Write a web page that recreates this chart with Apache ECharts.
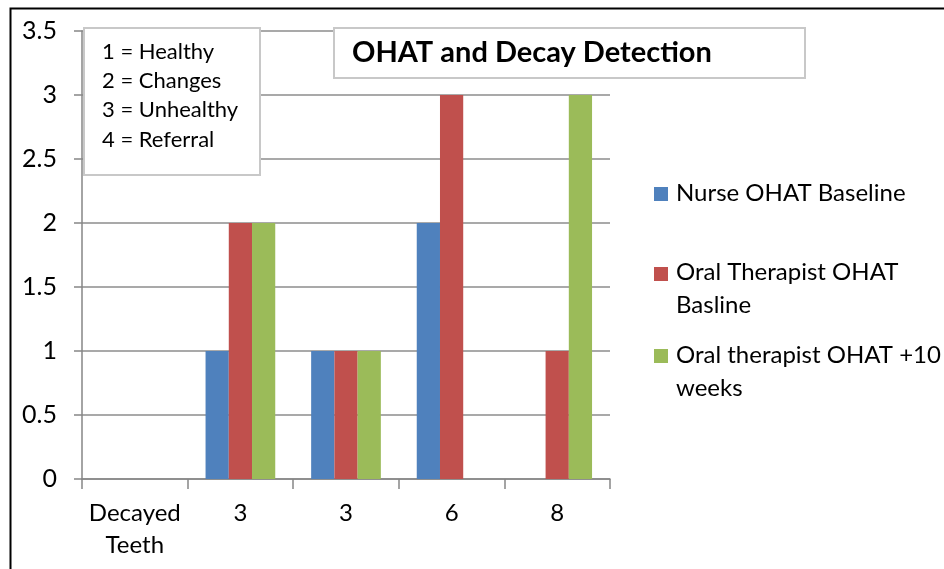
<!DOCTYPE html>
<html>
<head>
<meta charset="utf-8">
<script src="https://cdn.jsdelivr.net/npm/echarts@6/dist/echarts.min.js"></script>
<style>
html,body{margin:0;padding:0;background:#fff;}
#chart{width:944px;height:569px;}
</style>
</head>
<body>
<div id="chart"></div>
<script>
var categories = ['Decayed\nTeeth', '3', '3', '6', '8'];
var nurseBaseline = [0, 1, 1, 2, 0];
var therapistBaseline = [0, 2, 1, 3, 1];
var therapist10Weeks = [0, 2, 1, 0, 3];
var seriesNames = ['Nurse OHAT Baseline', 'Oral Therapist OHAT Basline', 'Oral therapist OHAT +10 weeks'];
var legendLabels = ['Nurse OHAT Baseline', 'Oral Therapist OHAT\nBasline', 'Oral therapist OHAT +10\nweeks'];
var colors = ['#4F81BD', '#C0504D', '#9BBB59'];
var noteLines = ['1 = Healthy', '2 = Changes', '3 = Unhealthy', '4 = Referral'];
var titleText = 'OHAT and Decay Detection';

var FONT = 'Lato, "Liberation Sans", sans-serif';
var chart = echarts.init(document.getElementById('chart'));

var legendGraphics = [];
var markerTops = [187, 267, 349];
var textTops = [176.5, 255.5, 338.5];
for (var i = 0; i < 3; i++) {
  legendGraphics.push({
    type: 'rect', left: 654, top: markerTops[i],
    shape: {width: 14, height: 14}, style: {fill: colors[i]}, z: 10
  });
  legendGraphics.push({
    type: 'text', left: 676, top: textTops[i],
    style: {text: legendLabels[i], font: '24px ' + FONT, fill: '#000', lineHeight: 33}, z: 10
  });
}

var option = {
  animation: false,
  color: colors,
  grid: {left: 82, right: 334, top: 31, bottom: 90, containLabel: false},
  xAxis: {
    type: 'category',
    data: categories,
    axisLine: {show: true, lineStyle: {color: '#868686', width: 1.5}},
    axisTick: {show: true, length: 10, lineStyle: {color: '#868686', width: 1.5}},
    axisLabel: {color: '#000', fontSize: 24, fontFamily: FONT, margin: 18, lineHeight: 32,
                interval: 0, hideOverlap: false}
  },
  yAxis: {
    type: 'value', min: 0, max: 3.5, interval: 0.5,
    axisLine: {show: true, lineStyle: {color: '#868686', width: 1.5}},
    axisTick: {show: true, length: 8, lineStyle: {color: '#868686', width: 1.5}},
    axisLabel: {color: '#000', fontSize: 25, fontFamily: FONT, margin: 25},
    splitLine: {show: true, lineStyle: {color: '#8c8c8c', width: 1.5}}
  },
  series: [
    {name: seriesNames[0], type: 'bar', data: nurseBaseline, barGap: '0%', barCategoryGap: '34%'},
    {name: seriesNames[1], type: 'bar', data: therapistBaseline, barGap: '0%', barCategoryGap: '34%'},
    {name: seriesNames[2], type: 'bar', data: therapist10Weeks, barGap: '0%', barCategoryGap: '34%'}
  ],
  graphic: [
    {type: 'rect', left: 8, top: 6, shape: {width: 1000, height: 1000},
     style: {fill: 'none', stroke: '#000', lineWidth: 2}, z: 20},
    {type: 'rect', left: 83, top: 27, shape: {width: 176, height: 147},
     style: {fill: '#fff', stroke: '#c8c8c8', lineWidth: 2}, z: 10},
    {type: 'text', left: 102, top: 37,
     style: {text: noteLines.join('\n'), font: '22px ' + FONT, fill: '#000', lineHeight: 29.3}, z: 11},
    {type: 'rect', left: 333, top: 27, shape: {width: 471, height: 50},
     style: {fill: '#fff', stroke: '#c8c8c8', lineWidth: 2}, z: 10},
    {type: 'text', left: 352, top: 38,
     style: {text: titleText, font: 'bold 29px ' + FONT, fill: '#000'}, z: 11}
  ].concat(legendGraphics)
};
chart.setOption(option);
</script>
</body>
</html>
